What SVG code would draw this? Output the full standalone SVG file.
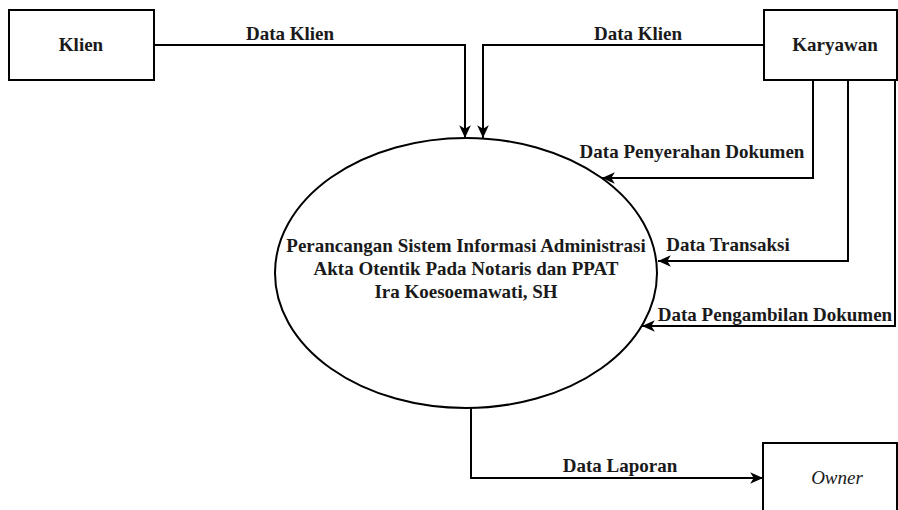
<svg xmlns="http://www.w3.org/2000/svg" width="898" height="510" viewBox="0 0 898 510">
<style>
.box{fill:#fff;stroke:#000;stroke-width:2}
.line{fill:none;stroke:#000;stroke-width:2}
text{font-family:'Liberation Serif','DejaVu Serif',serif;font-weight:bold;font-size:19px;fill:#1a1a1a;text-anchor:middle}
.it{font-weight:normal;font-style:italic}
</style>
<defs>
<marker id="arr" markerUnits="userSpaceOnUse" markerWidth="14" markerHeight="14" viewBox="0 0 12 12" refX="11" refY="6" orient="auto">
<path d="M0,1 L11,6 L0,11 L3,6 z" fill="#000"/>
</marker>
</defs>
<rect width="898" height="510" fill="#fff"/>
<g id="connectors">
<g id="c1"><path class="line" d="M154,45 H465 V138" marker-end="url(#arr)"/><text x="290" y="40">Data Klien</text></g>
<g id="c2"><path class="line" d="M764,45 H483 V138" marker-end="url(#arr)"/><text x="638" y="40">Data Klien</text></g>
<g id="c3"><path class="line" d="M813,80 V178 H602" marker-end="url(#arr)"/><text x="692" y="158">Data Penyerahan Dokumen</text></g>
<g id="c4"><path class="line" d="M848,80 V261 H658" marker-end="url(#arr)"/><text x="728" y="251">Data Transaksi</text></g>
<g id="c5"><path class="line" d="M895,80 V326 H642" marker-end="url(#arr)"/><text x="775" y="321">Data Pengambilan Dokumen</text></g>
<g id="c6"><path class="line" d="M471,408 V478 H763" marker-end="url(#arr)"/><text x="620" y="472">Data Laporan</text></g>
</g>
<g id="klien"><rect class="box" x="9" y="10" width="145" height="70"/><text x="81" y="51">Klien</text></g>
<g id="karyawan"><rect class="box" x="764" y="10" width="133" height="70"/><text x="835" y="51">Karyawan</text></g>
<g id="owner"><rect class="box" x="763" y="443" width="134" height="72"/><text class="it" x="837" y="484">Owner</text></g>
<g id="process"><ellipse class="box" cx="466" cy="273" rx="191" ry="135"/>
<text x="466" y="252">Perancangan Sistem Informasi Administrasi</text>
<text x="466" y="275">Akta Otentik Pada Notaris dan PPAT</text>
<text x="466" y="298">Ira Koesoemawati, SH</text>
</g>
</svg>
